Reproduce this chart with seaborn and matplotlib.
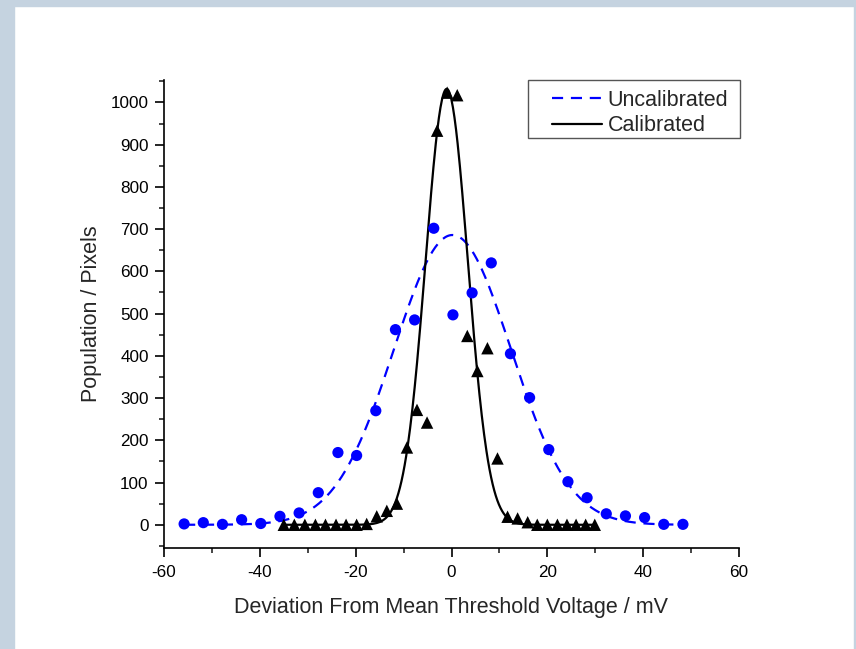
import numpy as np
import pandas as pd
import seaborn as sns
import matplotlib.pyplot as plt
from matplotlib.ticker import MultipleLocator
from matplotlib.lines import Line2D

# uncalibrated pixels (blue circles)
unc_x = [-55.8, -51.8, -47.8, -43.8, -39.8, -35.8, -31.8, -27.8, -23.7, -19.8,
         -15.8, -11.7, -7.7, -3.7, 0.3, 4.3, 8.3, 12.3, 16.3, 20.3,
         24.3, 28.3, 32.3, 36.3, 40.3, 44.3, 48.3]
unc_y = [2, 5, 1, 12, 3, 20, 28, 76, 171, 164,
         270, 462, 485, 702, 497, 549, 620, 405, 301, 178,
         102, 64, 26, 21, 17, 1, 1]

# calibrated pixels (black triangles)
cal_x = [-35.0, -32.8, -30.6, -28.4, -26.3, -24.1, -22.0, -19.8, -17.7, -15.6,
         -13.5, -11.4, -9.3, -7.2, -5.1, -3.0, -0.9, 1.2, 3.3, 5.4,
         7.5, 9.6, 11.7, 13.8, 15.9, 17.9, 20.0, 22.1, 24.1, 26.0,
         28.0, 29.9]
cal_y = [0, 0, 0, 0, 0, 0, 0, 0, 2, 20,
         33, 50, 183, 272, 242, 933, 1023, 1017, 447, 364,
         418, 157, 19, 15, 6, 0, 0, 0, 0, 0,
         0, 0]

# gaussian fit parameters: amplitude, centre, sigma
unc_fit = (686, 0.2, 12.2)
cal_fit = (1032, -1.0, 4.4)

series_names = ["Uncalibrated", "Calibrated"]


def gauss_curve(params, lo, hi):
    a, c, s = params
    xs = np.linspace(lo, hi, 400)
    return pd.DataFrame({"x": xs, "y": a * np.exp(-(xs - c) ** 2 / (2 * s ** 2))})


sns.set_style("ticks")
plt.rcParams["font.family"] = ["Liberation Sans", "DejaVu Sans"]
plt.rcParams["axes.unicode_minus"] = False

W, H = 856, 649
fig = plt.figure(figsize=(W / 100, H / 100), dpi=100)
fig.patch.set_facecolor("white")
# light frame around the picture
frame_col = "#c5d3e0"
fig.patches.append(plt.Rectangle((0, 0), 14 / W, 1, transform=fig.transFigure,
                                 color=frame_col, zorder=0))
fig.patches.append(plt.Rectangle((0, 1 - 6 / H), 1, 6 / H, transform=fig.transFigure,
                                 color=frame_col, zorder=0))
fig.patches.append(plt.Rectangle((1 - 2 / W, 0), 2 / W, 1, transform=fig.transFigure,
                                 color=frame_col, zorder=0))

ax = fig.add_axes([164 / W, 101 / H, 575 / W, 468 / H])

unc_df = gauss_curve(unc_fit, min(unc_x), max(unc_x))
cal_df = gauss_curve(cal_fit, min(cal_x), max(cal_x))

dash = (0, (5, 3.5))
sns.lineplot(data=unc_df, x="x", y="y", ax=ax, color="#0000ff", lw=1.6,
             linestyle=dash, sort=False)
sns.lineplot(data=cal_df, x="x", y="y", ax=ax, color="black", lw=1.6, sort=False)
sns.scatterplot(x=unc_x, y=unc_y, ax=ax, color="#0000ff", marker="o", s=65,
                edgecolor="none", zorder=3)
sns.scatterplot(x=cal_x, y=cal_y, ax=ax, color="black", marker="^", s=80,
                edgecolor="none", zorder=3)

ax.set_xlim(-60, 60)
ax.set_ylim(-55, 1053)
ax.xaxis.set_major_locator(MultipleLocator(20))
ax.xaxis.set_minor_locator(MultipleLocator(10))
ax.yaxis.set_major_locator(MultipleLocator(100))
ax.yaxis.set_minor_locator(MultipleLocator(50))
ax.set_yticks(range(0, 1001, 100))
ax.tick_params(which="major", length=6.5, width=1.2, labelsize=12.3, colors="black", pad=4.5)
ax.tick_params(which="minor", length=3.5, width=1.2)
ax.tick_params(axis="x", pad=6)
for side in ["top", "right"]:
    ax.spines[side].set_visible(False)
for side in ["left", "bottom"]:
    ax.spines[side].set_linewidth(1.2)
    ax.spines[side].set_color("black")

ax.set_xlabel("Deviation From Mean Threshold Voltage / mV", fontsize=15.5, labelpad=12)
ax.set_ylabel("Population / Pixels", fontsize=15.5, labelpad=6)

# legend frame drawn by hand (the original has a wide left margin)
fig.patches.append(plt.Rectangle((528 / W, 1 - 138 / H), 212 / W, 58 / H,
                                 transform=fig.transFigure, fill=False,
                                 edgecolor="#555555", lw=1.0, zorder=5))
handles = [Line2D([], [], color="#0000ff", lw=1.6, linestyle=dash),
           Line2D([], [], color="black", lw=1.6)]
ax.legend(handles, series_names, loc="upper left",
          bbox_to_anchor=(552 / W, 1 - 90 / H), bbox_transform=fig.transFigure,
          fontsize=15.5, frameon=False, handlelength=2.3, handletextpad=0.28,
          borderpad=0, labelspacing=0.2, borderaxespad=0)

fig.savefig("out.png", dpi=100)
